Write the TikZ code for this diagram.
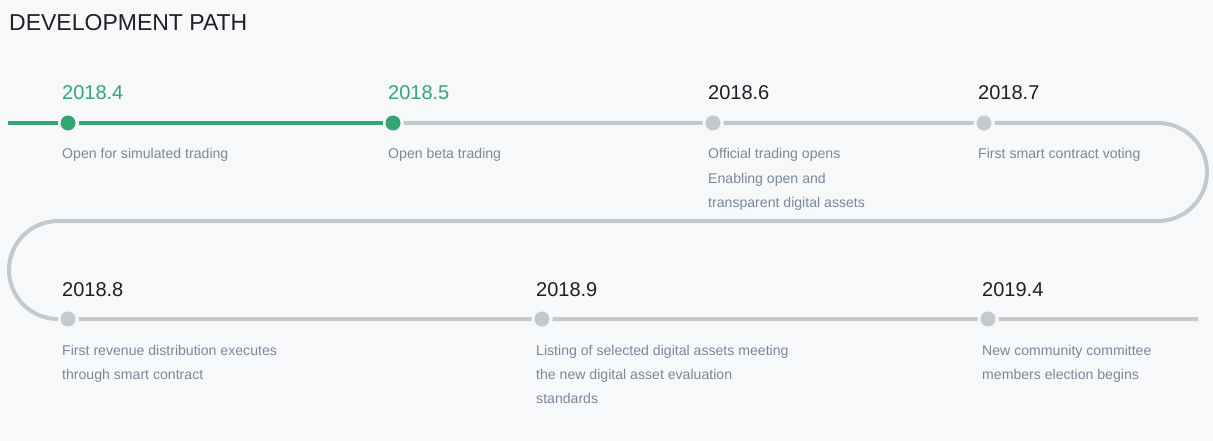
\documentclass[tikz,border=0pt]{standalone}
\usepackage{fontspec}
\setmainfont{Liberation Sans}
\definecolor{pathgreen}{HTML}{33A773}
\definecolor{pathgrey}{HTML}{C3C9CD}
\definecolor{desctext}{HTML}{7A8899}
\definecolor{datetext}{HTML}{1E2024}
\definecolor{pagebg}{HTML}{F7F8FA}
\tikzset{
	milestone/.style={circle, inner sep=0pt, minimum size=15pt, outer sep=3pt, fill=pathgrey},
	done/.style={fill=pathgreen},
	datelabel/.style={anchor=base west, inner sep=0pt, text=datetext, font=\fontsize{20}{24}\selectfont},
	desclabel/.style={anchor=base west, inner sep=0pt, align=left, text=desctext, font=\fontsize{14.1}{24}\selectfont},
	track/.style={line width=4pt, draw=pathgrey},
}
\begin{document}
\begin{tikzpicture}[x=1pt,y=-1pt]
	\fill[pagebg] (0,0) rectangle (1213,441);
	\useasboundingbox (0,0) rectangle (1213,441);
	\node (title) [anchor=base west, inner sep=0pt, text=datetext, font=\fontsize{23}{27}\selectfont] at (9,30.5) {DEVELOPMENT PATH};

	\node[milestone,done] (m1) at (68,123) {};
	\node[milestone,done] (m2) at (393,123) {};
	\node[milestone] (m3) at (713,123) {};
	\node[milestone] (m4) at (984,123) {};
	\node[milestone] (m5) at (68,319) {};
	\node[milestone] (m6) at (542,319) {};
	\node[milestone] (m7) at (988,319) {};

	\coordinate (start) at (8,123);
	\coordinate (turnR) at (1158,123);
	\coordinate (turnL) at (58,221);
	\coordinate (finish) at (1198,319);

	\draw [track,draw=pathgreen] (start) -- (m1) -- (m2);
	\draw [track] (m2) -- (m3) -- (m4) -- (turnR)
		arc [start angle=-90, end angle=90, radius=49] -- (turnL)
		arc [start angle=-90, end angle=-270, radius=49] -- (m5) -- (m6) -- (m7) -- (finish);

	\node[datelabel,text=pathgreen] (d1) at ([xshift=-6pt,yshift=23pt]m1.center) {2018.4};
	\node[datelabel,text=pathgreen] (d2) at ([xshift=-5pt,yshift=23pt]m2.center) {2018.5};
	\node[datelabel] (d3) at ([xshift=-5pt,yshift=23pt]m3.center) {2018.6};
	\node[datelabel] (d4) at ([xshift=-6pt,yshift=23pt]m4.center) {2018.7};
	\node[datelabel] (d5) at ([xshift=-6pt,yshift=23pt]m5.center) {2018.8};
	\node[datelabel] (d6) at ([xshift=-6pt,yshift=23pt]m6.center) {2018.9};
	\node[datelabel] (d7) at ([xshift=-6pt,yshift=23pt]m7.center) {2019.4};

	% base of a multi-line label is its last line
	\node[desclabel] (t1) at ([xshift=-6pt,yshift=-36pt]m1.center) {Open for simulated trading};
	\node[desclabel] (t2) at ([xshift=-5pt,yshift=-36pt]m2.center) {Open beta trading};
	\node[desclabel] (t3) at ([xshift=-5pt,yshift=-84pt]m3.center) {Official trading opens\\Enabling open and\\transparent digital assets};
	\node[desclabel] (t4) at ([xshift=-6pt,yshift=-36pt]m4.center) {First smart contract voting};
	\node[desclabel] (t5) at ([xshift=-6pt,yshift=-60pt]m5.center) {First revenue distribution executes\\through smart contract};
	\node[desclabel] (t6) at ([xshift=-6pt,yshift=-84pt]m6.center) {Listing of selected digital assets meeting\\the new digital asset evaluation\\standards};
	\node[desclabel] (t7) at ([xshift=-6pt,yshift=-60pt]m7.center) {New community committee\\members election begins};
\end{tikzpicture}
\end{document}
